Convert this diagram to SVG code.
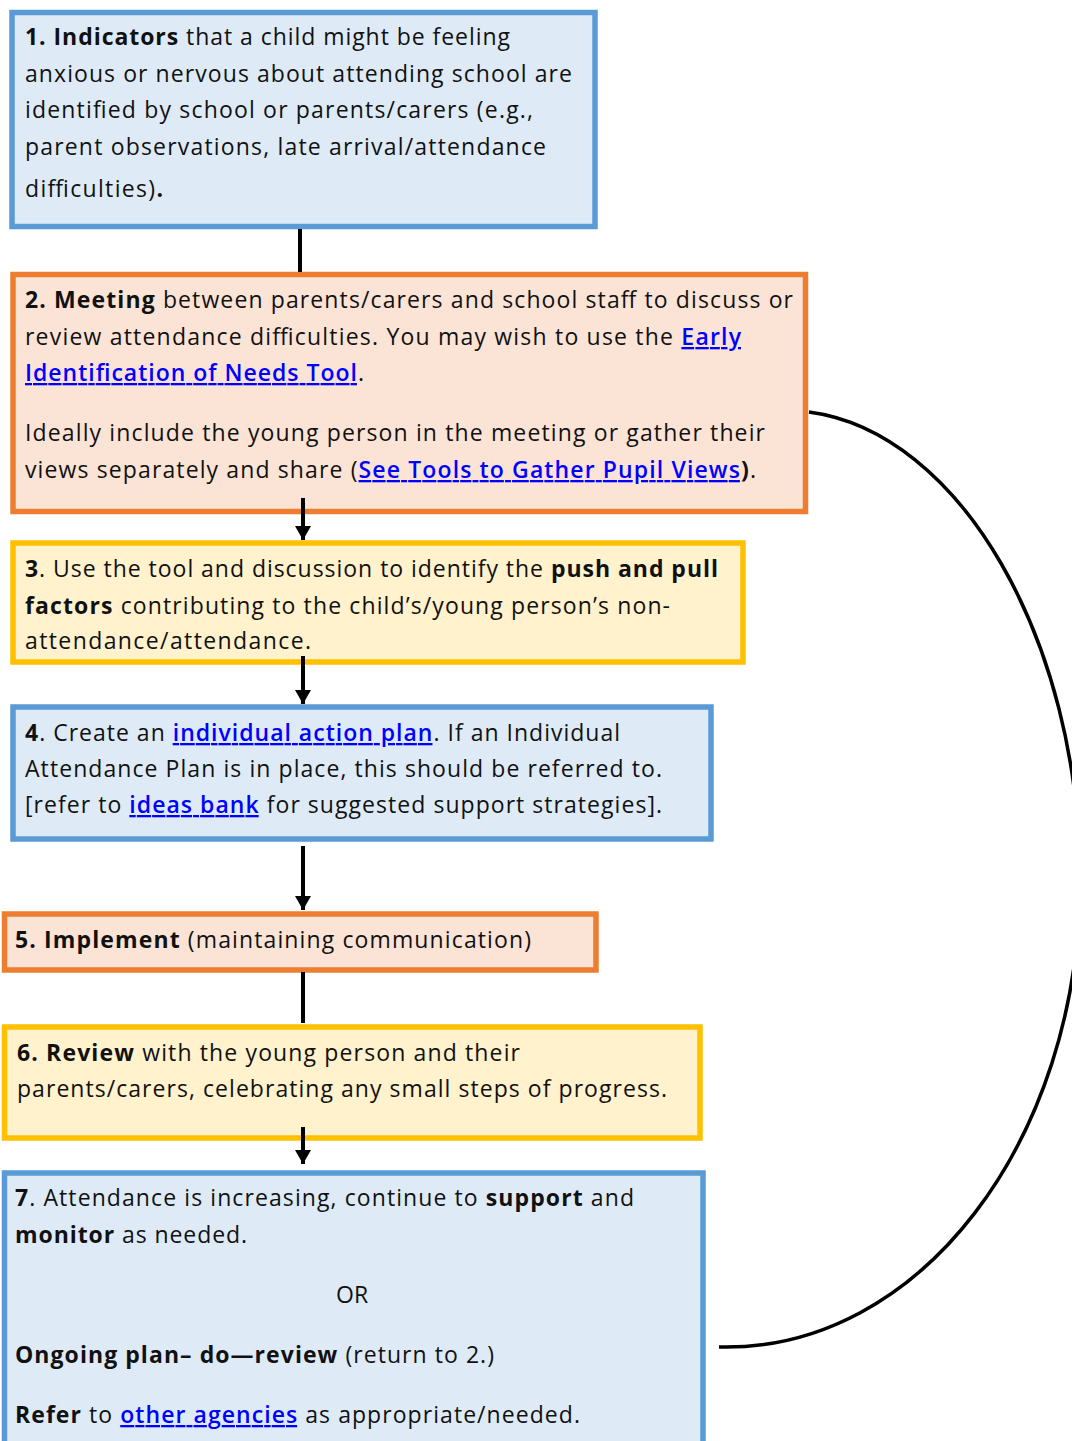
<svg xmlns="http://www.w3.org/2000/svg" width="1072" height="1441" viewBox="0 0 1072 1441">
<style>
text{font-family:"Open Sans","Noto Sans","Liberation Sans",sans-serif;font-size:23px;fill:#111;}
.b{font-weight:700;}
.lk{fill:#0000ff;font-weight:600;text-decoration:underline;}
.blue{fill:#deebf7;stroke:#5b9bd5;stroke-width:5.5;}
.orange{fill:#fbe4d6;stroke:#ed7d31;stroke-width:5.5;}
.yellow{fill:#fff2cc;stroke:#ffc000;stroke-width:5.5;}
.con{stroke:#000;stroke-width:4;fill:none;}
</style>
<defs>
<marker id="ah" markerUnits="userSpaceOnUse" markerWidth="18" markerHeight="16" refX="14" refY="8" orient="auto">
<path d="M0,0 L14,8 L0,16 Z" fill="#000"/>
</marker>
</defs>
<rect width="1072" height="1441" fill="#fff"/>

<g id="node1">
<rect class="blue" x="12" y="12.5" width="583" height="214"/>
<text x="25" y="45" textLength="485" lengthAdjust="spacing"><tspan class="b">1. Indicators</tspan> that a child might be feeling</text>
<text x="25" y="82" textLength="547" lengthAdjust="spacing">anxious or nervous about attending school are</text>
<text x="25" y="118" textLength="508" lengthAdjust="spacing">identified by school or parents/carers (e.g.,</text>
<text x="25" y="155" textLength="521" lengthAdjust="spacing">parent observations, late arrival/attendance</text>
<text x="25" y="197" textLength="138" lengthAdjust="spacing">difficulties)<tspan class="b">.</tspan></text>
</g>

<g id="node2">
<rect class="orange" x="13" y="274.5" width="792.5" height="237"/>
<text x="25" y="308" textLength="768" lengthAdjust="spacing"><tspan class="b">2. Meeting</tspan> between parents/carers and school staff to discuss or</text>
<text x="25" y="345" textLength="716" lengthAdjust="spacing">review attendance difficulties. You may wish to use the <tspan class="lk">Early</tspan></text>
<text x="25" y="381" textLength="339" lengthAdjust="spacing"><tspan class="lk">Identification of Needs Tool</tspan>.</text>
<text x="25" y="441" textLength="740" lengthAdjust="spacing">Ideally include the young person in the meeting or gather their</text>
<text x="25" y="478" textLength="731" lengthAdjust="spacing">views separately and share (<tspan class="lk">See Tools to Gather Pupil Views</tspan><tspan class="b">)</tspan>.</text>
</g>

<g id="node3">
<rect class="yellow" x="13" y="543" width="730" height="119"/>
<text x="25" y="577" textLength="693" lengthAdjust="spacing"><tspan class="b">3</tspan>. Use the tool and discussion to identify the <tspan class="b">push and pull</tspan></text>
<text x="25" y="614" textLength="645" lengthAdjust="spacing"><tspan class="b">factors</tspan> contributing to the child’s/young person’s non-</text>
<text x="25" y="649" textLength="286" lengthAdjust="spacing">attendance/attendance.</text>
</g>

<g id="node4">
<rect class="blue" x="13" y="707" width="698" height="132"/>
<text x="25" y="741" textLength="595" lengthAdjust="spacing"><tspan class="b">4</tspan>. Create an <tspan class="lk">individual action plan</tspan>. If an Individual</text>
<text x="25" y="777" textLength="637" lengthAdjust="spacing">Attendance Plan is in place, this should be referred to.</text>
<text x="25" y="813" textLength="637" lengthAdjust="spacing">[refer to <tspan class="lk">ideas bank</tspan> for suggested support strategies].</text>
</g>

<g id="node5">
<rect class="orange" x="4.5" y="914" width="591.5" height="56"/>
<text x="15" y="948" textLength="516" lengthAdjust="spacing"><tspan class="b">5. Implement</tspan> (maintaining communication)</text>
</g>

<g id="node6">
<rect class="yellow" x="4.5" y="1027" width="695.5" height="111"/>
<text x="17" y="1061" textLength="503" lengthAdjust="spacing"><tspan class="b">6. Review</tspan> with the young person and their</text>
<text x="17" y="1097" textLength="650" lengthAdjust="spacing">parents/carers, celebrating any small steps of progress.</text>
</g>

<g id="node7">
<rect class="blue" x="4.5" y="1173" width="698.5" height="290"/>
<text x="15" y="1206" textLength="619" lengthAdjust="spacing"><tspan class="b">7</tspan>. Attendance is increasing, continue to <tspan class="b">support</tspan> and</text>
<text x="15" y="1243" textLength="232" lengthAdjust="spacing"><tspan class="b">monitor</tspan> as needed.</text>
<text x="336" y="1303">OR</text>
<text x="15" y="1363" textLength="479" lengthAdjust="spacing"><tspan class="b">Ongoing plan– do—review</tspan> (return to 2.)</text>
<text x="15" y="1423" textLength="565" lengthAdjust="spacing"><tspan class="b">Refer</tspan> to <tspan class="lk">other agencies</tspan> as appropriate/needed.</text>
</g>

<g id="connectors">
<line class="con" x1="300" y1="229" x2="300" y2="272"/>
<line class="con" x1="303" y1="498" x2="303" y2="540" marker-end="url(#ah)"/>
<line class="con" x1="303" y1="656" x2="303" y2="704" marker-end="url(#ah)"/>
<line class="con" x1="303" y1="846" x2="303" y2="910" marker-end="url(#ah)"/>
<line class="con" x1="303" y1="972" x2="303" y2="1023"/>
<line class="con" x1="303" y1="1127" x2="303" y2="1164" marker-end="url(#ah)"/>
<path d="M809,412 C960,432 1080,640 1080,880 C1080,1140 920,1352 719,1347" stroke="#000" stroke-width="3.5" fill="none"/>
</g>
</svg>
